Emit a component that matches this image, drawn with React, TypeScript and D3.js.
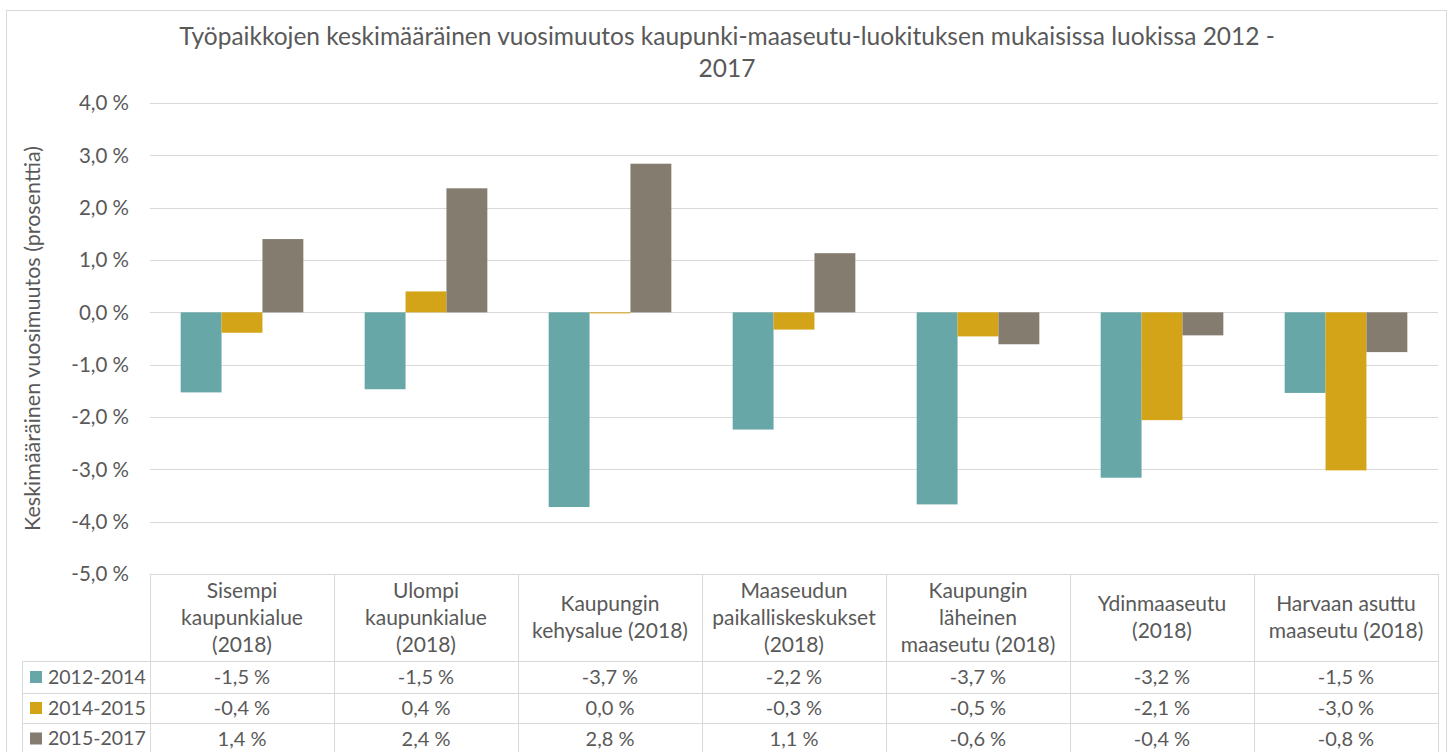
import React from 'react';
import * as d3 from 'd3';

const categories: string[][] = [
  ['Sisempi', 'kaupunkialue', '(2018)'],
  ['Ulompi', 'kaupunkialue', '(2018)'],
  ['Kaupungin', 'kehysalue (2018)'],
  ['Maaseudun', 'paikalliskeskukset', '(2018)'],
  ['Kaupungin', 'läheinen', 'maaseutu (2018)'],
  ['Ydinmaaseutu', '(2018)'],
  ['Harvaan asuttu', 'maaseutu (2018)'],
];

const seriesNames = ['2012-2014', '2014-2015', '2015-2017'];
const seriesColors = ['#68A7A8', '#D4A418', '#837C6F'];

// values (table shows them rounded to 1 decimal)
const s2012_2014 = [-1.53, -1.47, -3.72, -2.24, -3.67, -3.16, -1.54];
const s2014_2015 = [-0.39, 0.4, -0.02, -0.33, -0.46, -2.06, -3.02];
const s2015_2017 = [1.4, 2.37, 2.84, 1.13, -0.61, -0.44, -0.76];
const series = [s2012_2014, s2014_2015, s2015_2017];

const yTicks = [4, 3, 2, 1, 0, -1, -2, -3, -4, -5];

const titleLines = [
  'Työpaikkojen keskimääräinen vuosimuutos kaupunki-maaseutu-luokituksen mukaisissa luokissa 2012 -',
  '2017',
];
const yTitle = 'Keskimääräinen vuosimuutos (prosenttia)';

const W = 1452;
const H = 752;
const FONT = 'Lato, "Open Sans", sans-serif';
const TEXT = '#595959';
const GRID = '#D9D9D9';

const fmt = (v: number) => {
  const s = (Math.round(v * 10) / 10).toFixed(1).replace('.', ',');
  return (s === '-0,0' ? '0,0' : s) + ' %';
};

const App: React.FC = () => {
  const plotLeft = 150;
  const plotRight = 1438;

  const x = d3.scaleBand<number>()
    .domain(d3.range(categories.length))
    .range([plotLeft, plotRight]);

  // gap width 150% -> bar = band / 4.5
  const inner = d3.scaleBand<number>()
    .domain(d3.range(series.length))
    .range([0, x.bandwidth()])
    .paddingInner(0)
    .paddingOuter(0.75);

  const y = d3.scaleLinear().domain([-5, 4]).range([574, 103]);

  const headerTop = y(-5);
  const rowTops = [661, 693, 723, 754];
  const bounds = d3.range(categories.length + 1).map(i =>
    i < categories.length ? (x(i) as number) : plotRight
  );

  return (
    <svg width={W} height={H} style={{ position: 'fixed', left: 0, top: 0, background: '#fff' }}
      fontFamily={FONT}>
      <rect x={0} y={0} width={W} height={H} fill="#fff" />
      <rect x={6.5} y={10.5} width={1440} height={760} fill="none" stroke={GRID} strokeWidth={1} />

      {/* title */}
      {titleLines.map((t, i) => (
        <text key={i} x={727} y={45 + i * 32} textAnchor="middle" fontSize={24.5} fill={TEXT}>{t}</text>
      ))}

      {/* gridlines + y labels */}
      {yTicks.map(t => (
        <g key={t}>
          {t > -5 && (
            <line x1={plotLeft} x2={plotRight} y1={Math.round(y(t)) + 0.5} y2={Math.round(y(t)) + 0.5}
              stroke={GRID} strokeWidth={1} />
          )}
          <text x={129} y={y(t)} dy="0.35em" textAnchor="end" fontSize={20.5} fill={TEXT}>{fmt(t)}</text>
        </g>
      ))}

      {/* y title */}
      <text transform={`translate(40,${y(-0.5)}) rotate(-90)`} textAnchor="middle" fontSize={21.5} fill={TEXT}>
        {yTitle}
      </text>

      {/* bars */}
      {series.map((vals, si) => (
        <g key={si}>
          {vals.map((v, ci) => {
            const bx = (x(ci) as number) + (inner(si) as number);
            const y0 = y(0);
            const y1 = y(v);
            return (
              <rect key={ci} x={bx} y={Math.min(y0, y1)} width={inner.bandwidth()}
                height={Math.max(Math.abs(y1 - y0), 0.8)} fill={seriesColors[si]} />
            );
          })}
        </g>
      ))}

      {/* data table */}
      <g stroke={GRID} strokeWidth={1} fill="none">
        <line x1={plotLeft} x2={plotRight} y1={Math.round(headerTop) + 0.5} y2={Math.round(headerTop) + 0.5} />
        {rowTops.map(ry => (
          <line key={ry} x1={22} x2={plotRight} y1={ry + 0.5} y2={ry + 0.5} />
        ))}
        <line x1={22.5} x2={22.5} y1={rowTops[0]} y2={H} />
        {bounds.map((bx, i) => (
          <line key={i} x1={Math.round(bx) + 0.5} x2={Math.round(bx) + 0.5} y1={headerTop} y2={H} />
        ))}
      </g>

      {/* header labels */}
      {categories.map((lines, ci) => {
        const cx = (x(ci) as number) + x.bandwidth() / 2;
        const mid = (headerTop + rowTops[0]) / 2;
        const lh = 27;
        const start = mid - ((lines.length - 1) * lh) / 2;
        return (
          <g key={ci}>
            {lines.map((l, li) => (
              <text key={li} x={cx} y={start + li * lh} dy="0.35em" textAnchor="middle" fontSize={21} fill={TEXT}>{l}</text>
            ))}
          </g>
        );
      })}

      {/* rows */}
      {series.map((vals, si) => {
        const ry = (rowTops[si] + rowTops[si + 1]) / 2;
        return (
          <g key={si}>
            <rect x={30} y={ry - 6} width={12} height={12} fill={seriesColors[si]} />
            <text x={48} y={ry} dy="0.35em" fontSize={19.5} fill={TEXT}>{seriesNames[si]}</text>
            {vals.map((v, ci) => (
              <text key={ci} x={(x(ci) as number) + x.bandwidth() / 2} y={ry} dy="0.35em"
                textAnchor="middle" fontSize={20} fill={TEXT}>{fmt(v)}</text>
            ))}
          </g>
        );
      })}
    </svg>
  );
};

export default App;
